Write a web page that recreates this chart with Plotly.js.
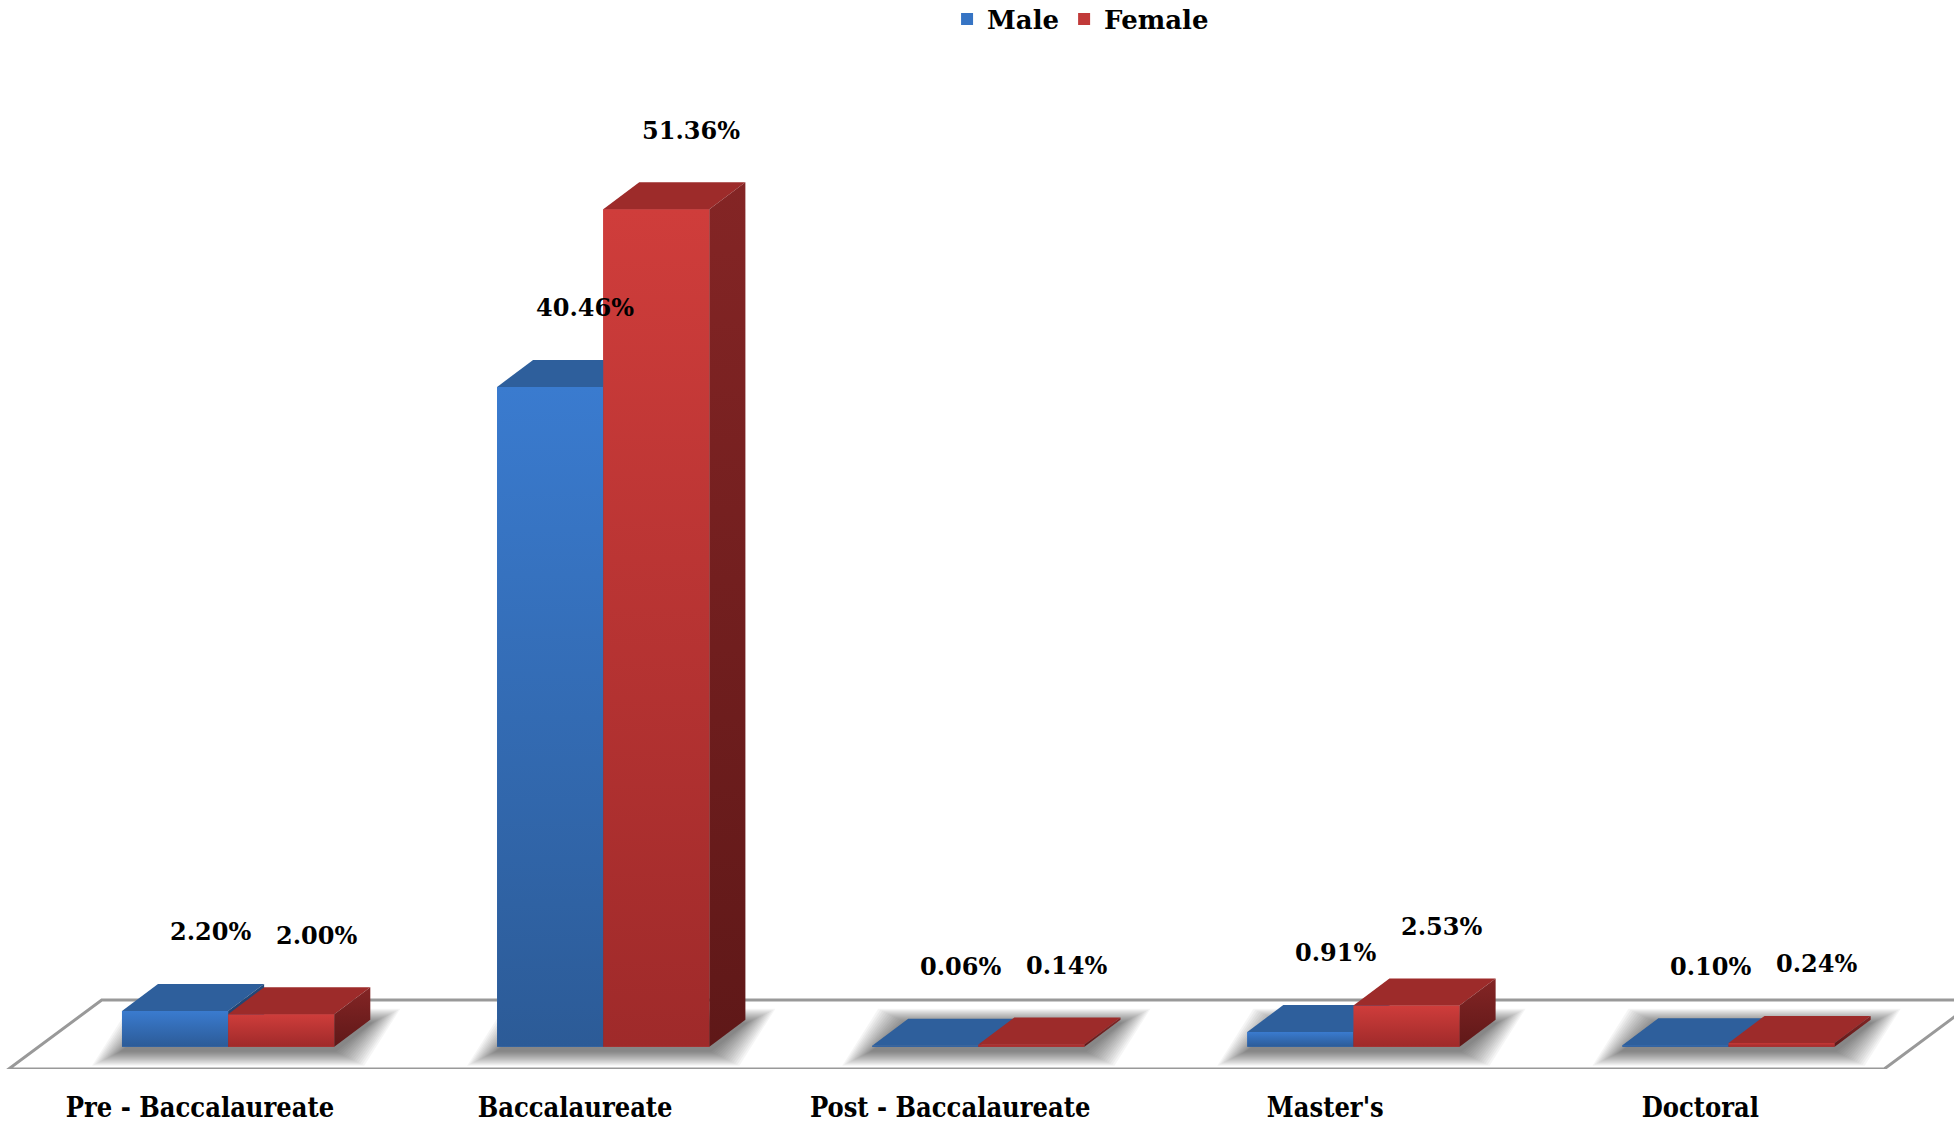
<!DOCTYPE html>
<html><head><meta charset="utf-8">
<script src="https://cdn.plot.ly/plotly-3.0.1.min.js"></script>
<style>html,body{margin:0;padding:0;background:#fff;overflow:hidden}</style>
</head><body><div id="chart" style="width:1954px;height:1127px"></div>
<script>
// ---------- data ----------
const categories = ["Pre - Baccalaureate", "Baccalaureate", "Post - Baccalaureate", "Master's", "Doctoral"];
const maleValues = [2.20, 40.46, 0.06, 0.91, 0.10];
const femaleValues = [2.00, 51.36, 0.14, 2.53, 0.24];
const seriesNames = ["Male", "Female"];

// ---------- style / geometry (category units on x, percent on y) ----------
const W = 0.283;              // bar front width
const OFFS = [-0.208, 0.075]; // bar offsets from category centre
const DX = 0.096, DY = 1.655; // 3-D depth offset
const PXX = 375.1, PXY = 16.31; // px per x-unit / per percent
const FONT = "DejaVu Serif";
const CATFONT = "DejaVu Serif Condensed, DejaVu Serif";
const COL = [
  {front: ["#2c5b97", "#3a7bcf"], top: "#2e5f9c", side: ["#1d3e69", "#24497a"], legend: "#3674c4"},
  {front: ["#9f2a2a", "#cf3d3b"], top: "#9d2b2a", side: ["#5f1818", "#842525"], legend: "#c13a39"}
];
const series = [maleValues, femaleValues];
const xs = categories.map((c, i) => i);

const traces = [];
// legend/base bar traces
series.forEach((vals, s) => {
  traces.push({
    type: "bar", name: seriesNames[s], x: xs, y: vals, width: W, offset: OFFS[s],
    marker: {color: COL[s].legend, line: {width: 0}}, hoverinfo: "skip"
  });
});

function poly(px, py, fill, grad) {
  const t = {type: "scatter", mode: "lines", x: px.concat([px[0]]), y: py.concat([py[0]]),
    fill: "toself", line: {width: 0}, showlegend: false, hoverinfo: "skip"};
  if (grad) t.fillgradient = grad; else t.fillcolor = fill;
  return t;
}

const annotations = [];
xs.forEach(i => {
  series.forEach((vals, s) => {
    const h = vals[i];
    const x0 = i + OFFS[s], x1 = x0 + W;
    const stop = Math.max(h, 0.3);
    traces.push(poly([x0, x1, x1, x0], [0, 0, h, h], null,
      {type: "vertical", start: 0, stop: stop, colorscale: [[0, COL[s].front[0]], [1, COL[s].front[1]]]}));
    traces.push(poly([x0, x1, x1 + DX, x0 + DX], [h, h, h + DY, h + DY], COL[s].top));
    traces.push(poly([x1, x1 + DX, x1 + DX, x1], [0, DY, h + DY, h], null,
      {type: "vertical", start: 0, stop: h + DY, colorscale: [[0, COL[s].side[0]], [1, COL[s].side[1]]]}));
    annotations.push({
      x: (x0 + x1) / 2, y: h + DY, xref: "x", yref: "y", text: h.toFixed(2) + "%",
      showarrow: false, xshift: 35, yshift: 52, xanchor: "center", yanchor: "middle",
      font: {family: FONT, size: 24, color: "#000", weight: "bold"}
    });
  });
});

// floor + soft shadows as shapes (below traces)
const shapes = [];
const FX0 = -0.51, FX1 = 4.49, FDX = 0.248, FY0 = -1.36, FY1 = 2.87;
shapes.push({type: "path", xref: "x", yref: "y", layer: "below",
  path: `M${FX0},${FY0} L${FX1},${FY0} L${FX1 + FDX},${FY1} L${FX0 + FDX},${FY1} Z`,
  fillcolor: "#ffffff", line: {color: "#999999", width: 3}});
const blur = [];
for (let e = 30; e >= 2; e -= 2) blur.push(e);
xs.forEach(i => {
  const a = i + OFFS[0], b = i + OFFS[1] + W;
  blur.forEach(e => {
    const ex = e / PXX, ey = (e * 0.5) / PXY, sy = -4 / PXY;
    shapes.push({type: "path", xref: "x", yref: "y", layer: "below",
      path: `M${a - ex},${-ey + sy} L${b + ex},${-ey + sy} L${b + DX + ex},${DY + ey + sy} L${a + DX - ex},${DY + ey + sy} Z`,
      fillcolor: "rgba(0,0,0,0.04)", line: {width: 0}});
  });
});

const layout = {
  width: 1954, height: 1127,
  margin: {l: 0, r: 0, t: 0, b: 58, pad: 0, autoexpand: false},
  paper_bgcolor: "#fff", plot_bgcolor: "rgba(0,0,0,0)",
  barmode: "overlay", showlegend: true,
  legend: {orientation: "h", x: 0.553, xanchor: "center", y: 1.004, yanchor: "top",
    font: {family: FONT, size: 26, color: "#000", weight: "bold"}, traceorder: "normal",
    bgcolor: "rgba(0,0,0,0)", itemclick: false, itemdoubleclick: false},
  xaxis: {range: [-200 / PXX, (1954 - 200) / PXX], tickvals: xs, ticktext: categories,
    showgrid: false, zeroline: false, showline: false, ticks: "", fixedrange: true, automargin: false,
    tickfont: {family: CATFONT, size: 27, color: "#000", weight: "bold"}, ticklabelstandoff: 20},
  yaxis: {range: [-1.36, -1.36 + 1069 / PXY], visible: false, showgrid: false, zeroline: false,
    fixedrange: true, automargin: false},
  annotations: annotations,
  shapes: shapes
};

Plotly.newPlot("chart", traces, layout, {displayModeBar: false, staticPlot: true});
</script>
</body></html>
